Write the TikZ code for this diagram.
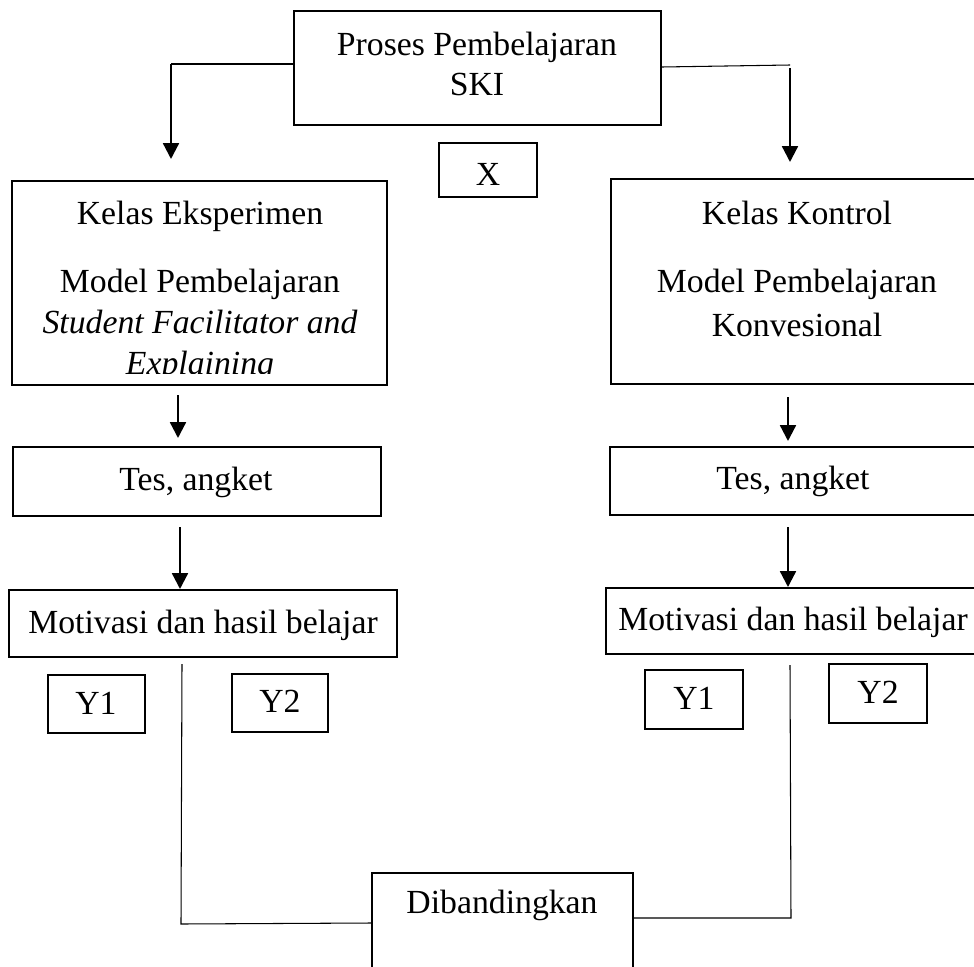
\documentclass[tikz,border=0pt]{standalone}
\usepackage{fontspec}
\setmainfont{Liberation Serif}
\usetikzlibrary{arrows.meta,fit}
\tikzset{
  box/.style={draw=black, line width=1.2pt, inner sep=0pt, fill=none},
  txt/.style={inner sep=0pt, font=\fontsize{19.2}{23}\selectfont, anchor=base},
  conn/.style={draw=black, line width=0.6pt},
  arr/.style={draw=black, line width=1.3pt, -{Triangle[length=9pt,width=9pt]}}
}
\begin{document}
\begin{tikzpicture}[x=0.02cm,y=-0.02cm]
\useasboundingbox (0,0) rectangle (974,967);
\clip (0,0) rectangle (974,967);
% boxes
\node[box, fit={(294,11)(661,125)}] (top) {};
\node[box, fit={(439,143)(537,197)}] (xbox) {};
\node[box, fit={(12,181)(387,385)}] (eks) {};
\node[box, fit={(611,179)(990,384)}] (kon) {};
\node[box, fit={(13,447)(381,516)}] (tesL) {};
\node[box, fit={(610,447)(990,515)}] (tesR) {};
\node[box, fit={(9,590)(397,657)}] (motL) {};
\node[box, fit={(606,588)(990,654)}] (motR) {};
\node[box, fit={(48,675)(145,733)}] (y1L) {};
\node[box, fit={(232,674)(328,732)}] (y2L) {};
\node[box, fit={(645,670)(743,729)}] (y1R) {};
\node[box, fit={(829,664)(927,723)}] (y2R) {};
\node[box, fit={(372,873)(633,990)}] (dib) {};
% texts
\node[txt] at (477,55) {Proses Pembelajaran};
\node[txt] at (477,95) {SKI};
\node[txt] at (488,185) {X};
\node[txt] at (200,224) {Kelas Eksperimen};
\node[txt] at (200,292) {Model Pembelajaran};
\node[txt] at (200,333) {\itshape Student Facilitator and};
\begin{scope}
\clip (12,181) rectangle (387,373);
\node[txt] at (200,374) {\itshape Explaining};
\end{scope}
\node[txt] at (797,224) {Kelas Kontrol};
\node[txt] at (797,292) {Model Pembelajaran};
\node[txt] at (797,336) {Konvesional};
\node[txt] at (196,490) {Tes, angket};
\node[txt] at (793,489) {Tes, angket};
\node[txt] at (203,633) {Motivasi dan hasil belajar};
\node[txt] at (793,630) {Motivasi dan hasil belajar};
\node[txt] at (96,714) {Y1};
\node[txt] at (280,712) {Y2};
\node[txt] at (694,709) {Y1};
\node[txt] at (878,703) {Y2};
\node[txt] at (502,913) {Dibandingkan};
% connectors
\coordinate (lc) at (171,64);
\coordinate (rc) at (790,65);
\coordinate (rc2) at (790,68);
\draw[conn] (top.west |- 0,64) -- (lc);
\draw[arr] (lc) -- (171,159);
\draw[conn] (top.east |- 0,67) -- (rc);
\draw[arr] (rc2) -- (790,162);
\draw[arr] (178,395) -- (178,438);
\draw[arr] (788,397) -- (788,441);
\draw[arr] (180,527) -- (180,589);
\draw[arr] (788,527) -- (788,587);
\coordinate (lb) at (181,924);
\coordinate (rb) at (791,918);
\draw[conn] (182,664) -- (lb) -- (dib.west |- 0,923);
\draw[conn] (790,665) -- (rb) -- (dib.east |- 0,918);
\end{tikzpicture}
\end{document}
